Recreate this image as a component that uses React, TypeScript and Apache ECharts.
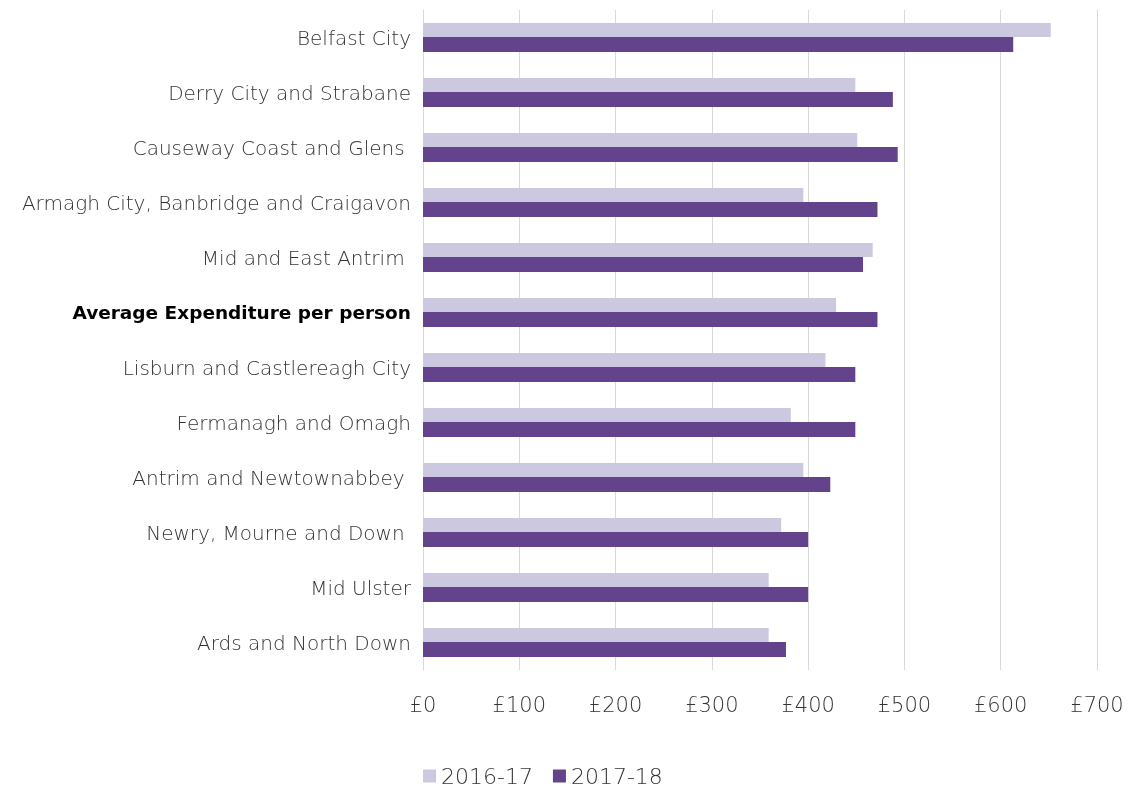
import React, { useEffect, useRef } from "react";
import * as echarts from "echarts";

const categories = [
  "Belfast City",
  "Derry City and Strabane",
  "Causeway Coast and Glens ",
  "Armagh City, Banbridge and Craigavon",
  "Mid and East Antrim ",
  "Average Expenditure per person",
  "Lisburn and Castlereagh City",
  "Fermanagh and Omagh",
  "Antrim and Newtownabbey ",
  "Newry, Mourne and Down ",
  "Mid Ulster",
  "Ards and North Down",
];
const values2016 = [652, 449, 451, 395, 467, 429, 418, 382, 395, 372, 359, 359];
const values2017 = [613, 488, 493, 472, 457, 472, 449, 449, 423, 400, 400, 377];
const seriesNames = ["2016-17", "2017-18"];

const FONT = "DejaVu Sans";
const TEXT = "#333333";

export default function App() {
  const ref = useRef<HTMLDivElement>(null);
  useEffect(() => {
    if (!ref.current) return;
    const chart = echarts.init(ref.current, null, { renderer: "svg" });
    chart.setOption({
      animation: false,
      grid: { left: 423, right: 31, top: 10, bottom: 119, containLabel: false },
      legend: {
        data: seriesNames,
        left: 423,
        top: 765,
        padding: 0,
        itemWidth: 13,
        itemHeight: 13,
        itemGap: 20,
        icon: "rect",
        textStyle: { fontFamily: FONT, fontSize: 22, color: TEXT, fontWeight: 300 },
      },
      xAxis: {
        type: "value",
        min: 0,
        max: 700,
        interval: 100,
        axisLine: { show: false },
        axisTick: { show: false },
        splitLine: { lineStyle: { color: "#d9d9d9", width: 1 } },
        axisLabel: {
          formatter: (v: number) => "£" + v,
          fontFamily: FONT,
          fontSize: 21,
          fontWeight: 300,
          color: TEXT,
          margin: 24,
        },
      },
      yAxis: {
        type: "category",
        data: categories,
        inverse: true,
        axisLine: { show: true, lineStyle: { color: "#d9d9d9" } },
        axisTick: { show: false },
        axisLabel: {
          fontFamily: FONT,
          fontSize: 20,
          fontWeight: 300,
          color: TEXT,
          margin: 12,
          formatter: (v: string) =>
            v === "Average Expenditure per person" ? "{b|" + v + "}" : v,
          rich: {
            b: { fontFamily: FONT, fontSize: 18.5, fontWeight: "bold", color: "#000000" },
          },
        },
      },
      series: [
        {
          name: seriesNames[0],
          type: "bar",
          data: values2016,
          barWidth: 14,
          barGap: "0%",
          itemStyle: { color: "#cbc8df" },
        },
        {
          name: seriesNames[1],
          type: "bar",
          data: values2017,
          barWidth: 15,
          barGap: "0%",
          itemStyle: { color: "#63438b" },
        },
      ],
    });
    return () => chart.dispose();
  }, []);
  return (
    <div
      ref={ref}
      style={{ position: "fixed", left: 0, top: 0, width: 1128, height: 789 }}
    />
  );
}
